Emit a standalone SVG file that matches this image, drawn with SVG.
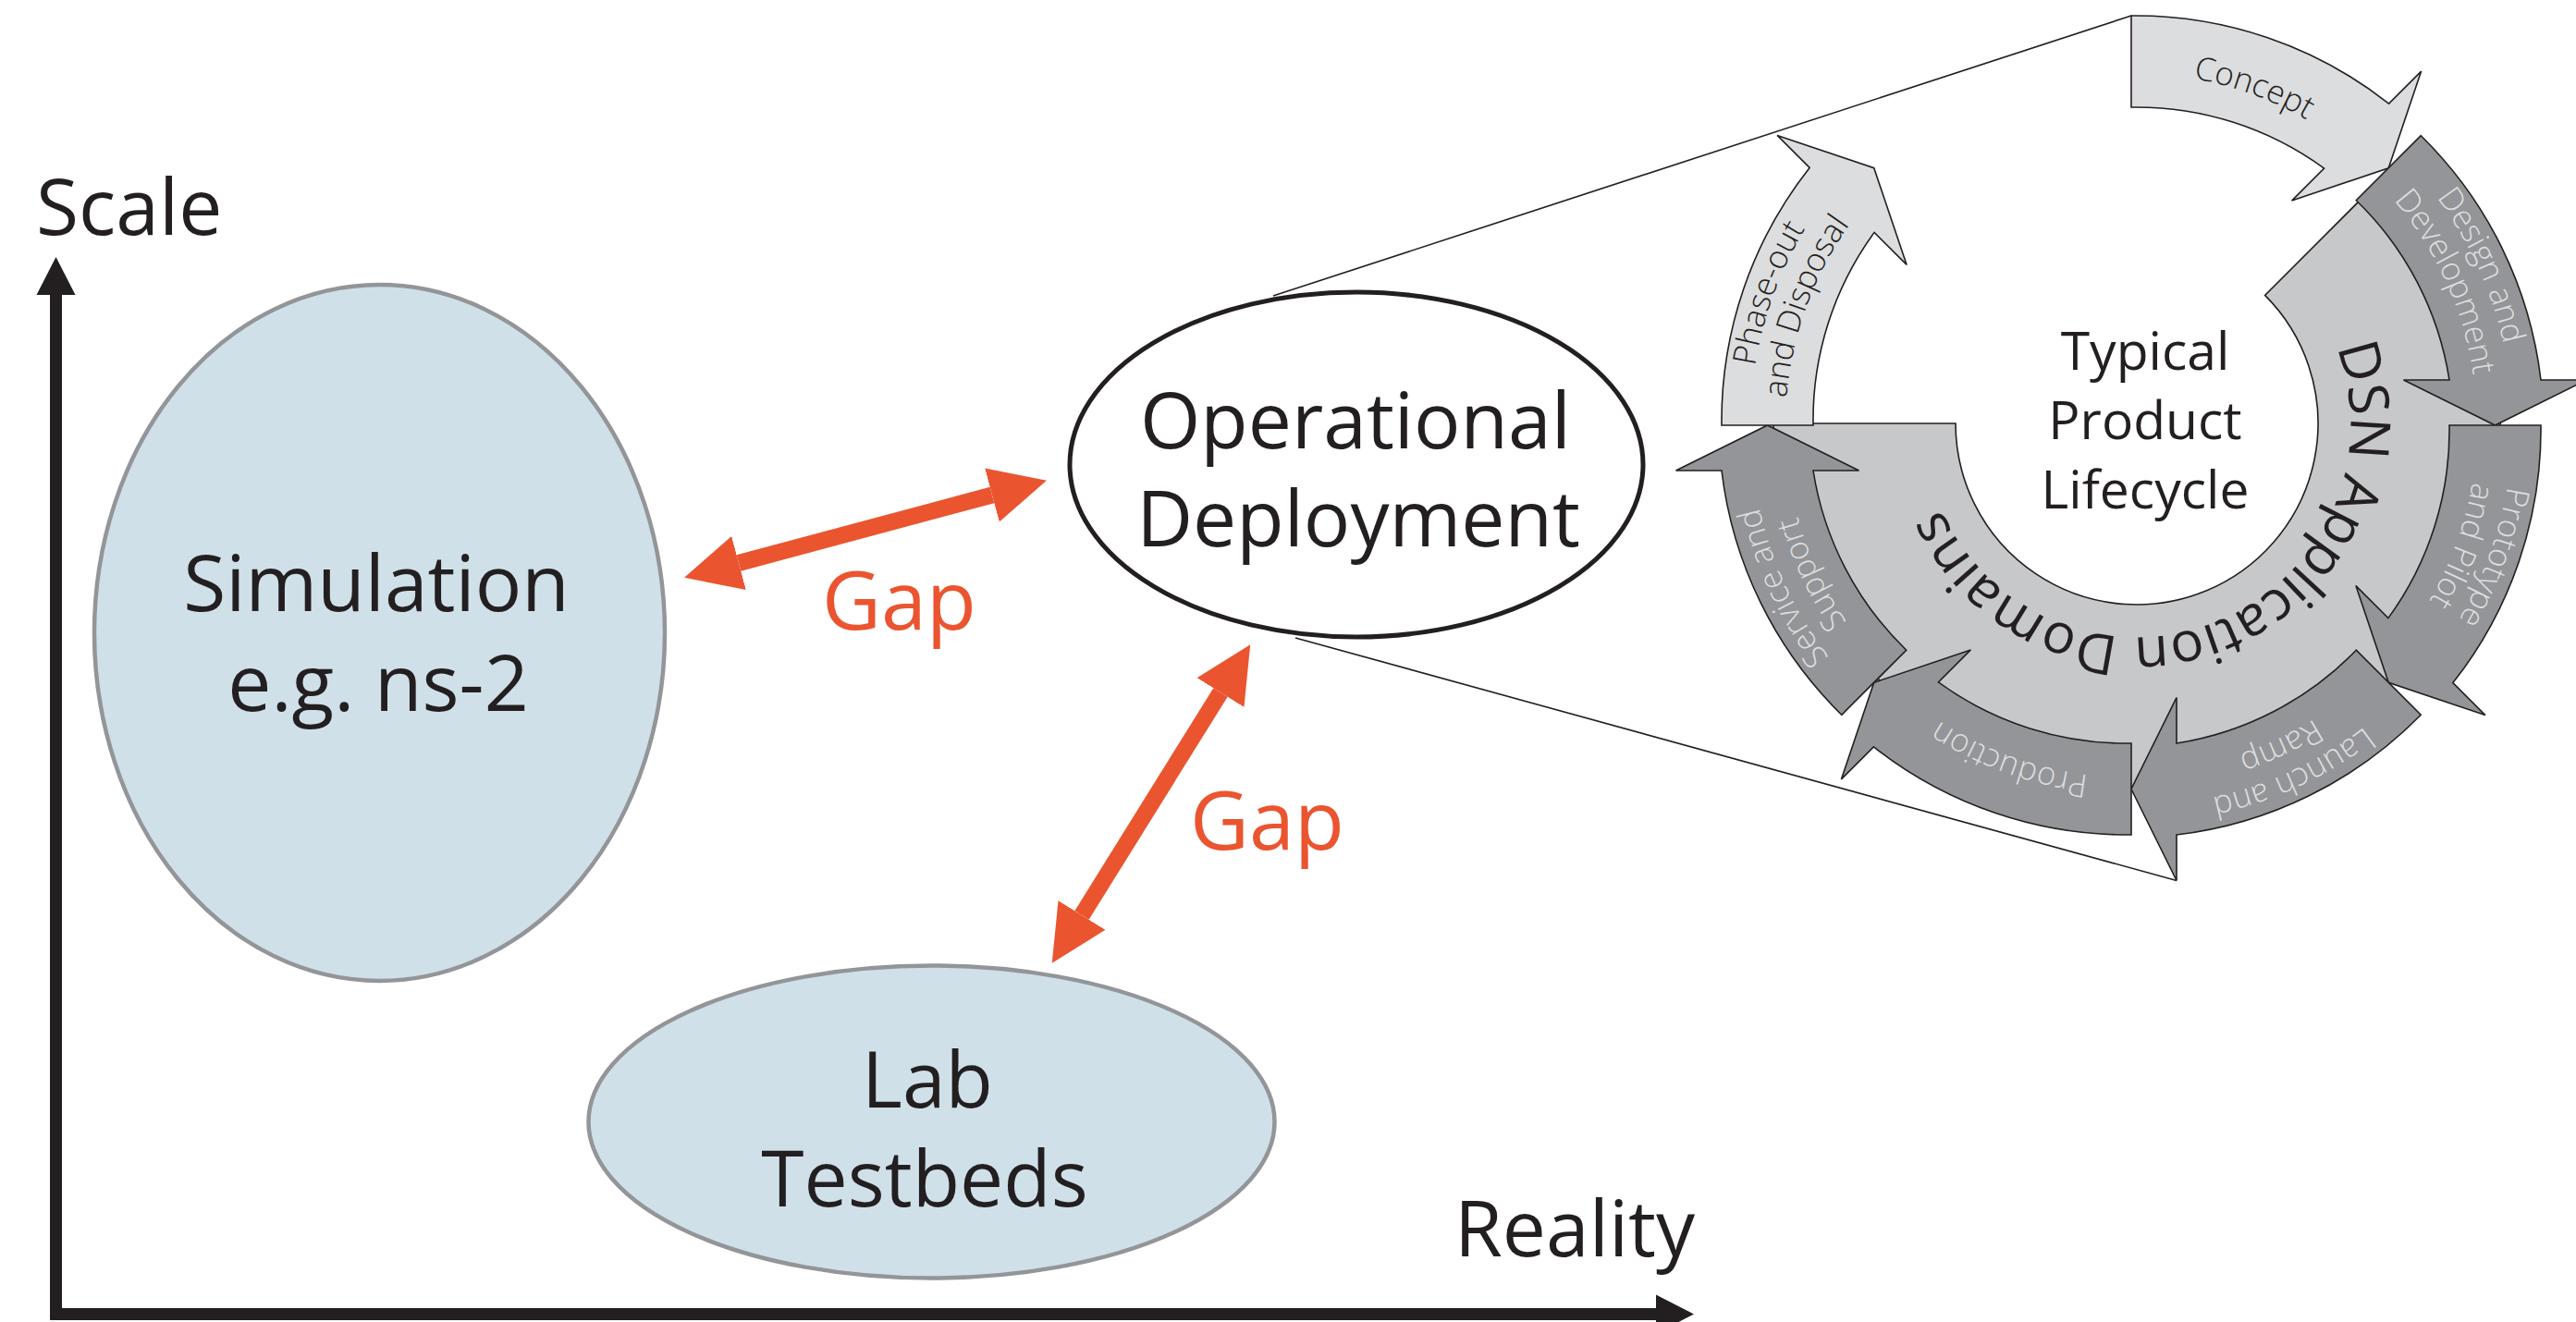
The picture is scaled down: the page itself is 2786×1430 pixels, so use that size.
<svg xmlns="http://www.w3.org/2000/svg" width="2786" height="1430" viewBox="0 0 2786 1430">
  <style>
    text { font-family: "Open Sans", "Liberation Sans", sans-serif; font-weight: 400; fill: #231f20; }
    .big { font-size: 84px; }
    .mid { text-anchor: middle; }
    .gap { font-size: 88px; fill: #ea5530; }
    .bubble { fill: #cfe0e9; stroke: #939598; stroke-width: 4.5; }
    .op { fill: #ffffff; stroke: #231f20; stroke-width: 5; }
    .axis { fill: none; stroke: #231f20; stroke-width: 13; stroke-linejoin: miter; }
    .gaparrow { fill: none; stroke: #ea5530; stroke-width: 18; }
    .callout { fill: none; stroke: #231f20; stroke-width: 1.6; }
    .ring { fill: #c7c8ca; stroke: #231f20; stroke-width: 1.6; }
    .phase { stroke: #231f20; stroke-width: 1.6; stroke-linejoin: miter; }
    .dark { fill: #939598; }
    .light { fill: #dcdddf; }
    .pl { font-size: 35px; font-weight: 300; text-anchor: middle; }
    .pl-light { fill: #dcdddf; }
    .center { font-size: 57px; text-anchor: middle; }
    .ringtxt { font-size: 60px; text-anchor: middle; }
  </style>
  <defs>
    <marker id="axisHead" markerUnits="userSpaceOnUse" markerWidth="42" markerHeight="44" refX="0" refY="22" orient="auto-start-reverse" viewBox="0 0 42 44">
      <path d="M0,1 L41,22 L0,43 z" fill="#231f20"/>
    </marker>
    <marker id="gapHead" markerUnits="userSpaceOnUse" markerWidth="62" markerHeight="62" refX="0" refY="31" orient="auto-start-reverse" viewBox="0 0 62 62">
      <path d="M0,1 L61,31 L0,61 z" fill="#ea5530"/>
    </marker>
    <!-- baselines for the lifecycle labels (arcs run clockwise, glyph tops face outward) -->
    <path id="tp-concept" d="M1975.0,269.5 A381,381 0 0 1 2680.2,526.2"/>
    <path id="tp-design-o" d="M2201.8,61.1 A412,412 0 0 1 2538.4,799.5"/>
    <path id="tp-design-i" d="M2211.4,97.9 A374,374 0 0 1 2516.8,768.2"/>
    <path id="tp-proto-o" d="M2511,103.2 A412,412 0 0 1 2233.5,865.7"/>
    <path id="tp-proto-i" d="M2492,136.1 A374,374 0 0 1 2240.1,828.3"/>
    <path id="tp-launch-o" d="M2703.0,353.4 A412,412 0 0 1 1967.5,696.3"/>
    <path id="tp-launch-i" d="M2666.3,363.2 A374,374 0 0 1 1998.6,674.5"/>
    <path id="tp-prod" d="M2635.0,650.5 A381,381 0 0 1 1929.8,393.8"/>
    <path id="tp-service-o" d="M2411.6,858.0 A412,412 0 0 1 2068.7,122.5"/>
    <path id="tp-service-i" d="M2401.8,821.3 A374,374 0 0 1 2090.5,153.6"/>
    <path id="tp-phase-o" d="M2099,816.8 A412,412 0 0 1 2376.5,54.3"/>
    <path id="tp-phase-i" d="M2118,783.9 A374,374 0 0 1 2370.0,91.7"/>
    <path id="tp-ring" d="M2426.5,258.0 A231,231 0 1 1 2088.5,395.9"/>
  </defs>

  <!-- axes -->
  <g id="axes">
    <path class="axis" d="M60.5,319 V1421.5 H1791" marker-start="url(#axisHead)" marker-end="url(#axisHead)"/>
    <text class="big" x="39" y="254">Scale</text>
    <text class="big" x="1573" y="1359">Reality</text>
  </g>

  <!-- connectors: gap arrows and the zoom lines to the lifecycle -->
  <g id="connectors">
    <line class="callout" x1="1377" y1="320" x2="2305" y2="17"/>
    <line class="callout" x1="1401" y1="690" x2="2354" y2="952.5"/>
    <line class="gaparrow" x1="799" y1="609" x2="1073" y2="535.5" marker-start="url(#gapHead)" marker-end="url(#gapHead)"/>
    <line class="gaparrow" x1="1320" y1="749" x2="1170" y2="990" marker-start="url(#gapHead)" marker-end="url(#gapHead)"/>
    <text class="gap" x="889" y="681">Gap</text>
    <text class="gap" x="1287" y="919">Gap</text>
  </g>

  <g id="simulation">
    <ellipse class="bubble" cx="410.5" cy="684.5" rx="308.5" ry="376.5"/>
    <text class="big mid" x="407" y="661">Simulation</text>
    <text class="big mid" x="409" y="769">e.g. ns-2</text>
  </g>

  <g id="lab-testbeds">
    <ellipse class="bubble" cx="1007.5" cy="1213.5" rx="371" ry="169"/>
    <text class="big mid" x="1003" y="1198">Lab</text>
    <text class="big mid" x="1000" y="1305">Testbeds</text>
  </g>

  <g id="operational-deployment">
    <ellipse class="op" cx="1467" cy="502.5" rx="310" ry="186.5"/>
    <text class="big mid" x="1466" y="485">Operational</text>
    <text class="big mid" x="1469" y="591">Deployment</text>
  </g>

  <!-- product lifecycle wheel -->
  <g id="lifecycle">
    <g id="dsn-ring">
      <path class="ring" d="M2588.9,180.1 A393,393 0 1 1 1918,458 L2115,458 A196,196 0 1 0 2449.6,319.4 Z"/>
      <text class="ringtxt"><textPath href="#tp-ring" startOffset="50%">DSN Application Domains</textPath></text>
    </g>
    <g id="typical-product-lifecycle">
      <text class="center" x="2320" y="400">Typical</text>
      <text class="center" x="2320" y="475">Product</text>
      <text class="center" x="2320" y="550">Lifecycle</text>
    </g>

    <g id="phase-concept">
      <path class="phase light" d="M2305,17 A443,443 0 0 1 2583.6,112.1 L2618.6,77.1 L2583.25,181.75 L2478.6,217.1 L2513.6,182.1 A344,344 0 0 0 2305,116 Z"/>
      <text class="pl"><textPath href="#tp-concept" startOffset="50%">Concept</textPath></text>
    </g>
    <g id="phase-design">
      <path class="phase dark" d="M2618.25,146.75 A443,443 0 0 1 2748,411 L2797.5,411 L2698.5,460 L2599.5,411 L2649,411 A344,344 0 0 0 2548.25,216.75 Z"/>
      <text class="pl pl-light"><textPath href="#tp-design-o" startOffset="50%">Design and</textPath></text>
      <text class="pl pl-light"><textPath href="#tp-design-i" startOffset="50%">Development</textPath></text>
    </g>
    <g id="phase-prototype">
      <path class="phase dark" d="M2748,460 A443,443 0 0 1 2652.9,738.6 L2687.9,773.6 L2583.25,738.25 L2547.9,633.6 L2582.9,668.6 A344,344 0 0 0 2649,460 Z"/>
      <text class="pl pl-light"><textPath href="#tp-proto-o" startOffset="50%">Prototype</textPath></text>
      <text class="pl pl-light"><textPath href="#tp-proto-i" startOffset="50%">and Pilot</textPath></text>
    </g>
    <g id="phase-launch">
      <path class="phase dark" d="M2618.25,773.25 A443,443 0 0 1 2354,903 L2354,952.5 L2305,853.5 L2354,754.5 L2354,804 A344,344 0 0 0 2548.25,703.25 Z"/>
      <text class="pl pl-light"><textPath href="#tp-launch-o" startOffset="50%">Launch and</textPath></text>
      <text class="pl pl-light"><textPath href="#tp-launch-i" startOffset="50%">Ramp</textPath></text>
    </g>
    <g id="phase-production">
      <path class="phase dark" d="M2305,903 A443,443 0 0 1 2026.4,807.9 L1991.4,842.9 L2026.75,738.25 L2131.4,702.9 L2096.4,737.9 A344,344 0 0 0 2305,804 Z"/>
      <text class="pl pl-light"><textPath href="#tp-prod" startOffset="50%">Production</textPath></text>
    </g>
    <g id="phase-service">
      <path class="phase dark" d="M1991.75,773.25 A443,443 0 0 1 1862,509 L1812.5,509 L1911.5,460 L2010.5,509 L1961,509 A344,344 0 0 0 2061.75,703.25 Z"/>
      <text class="pl pl-light"><textPath href="#tp-service-o" startOffset="50%">Service and</textPath></text>
      <text class="pl pl-light"><textPath href="#tp-service-i" startOffset="50%">Support</textPath></text>
    </g>
    <g id="phase-disposal">
      <path class="phase light" d="M1862,460 A443,443 0 0 1 1957.1,181.4 L1922.1,146.4 L2026.75,181.75 L2062.1,286.4 L2027.1,251.4 A344,344 0 0 0 1961,460 Z"/>
      <text class="pl"><textPath href="#tp-phase-o" startOffset="50%">Phase-out</textPath></text>
      <text class="pl"><textPath href="#tp-phase-i" startOffset="50%">and Disposal</textPath></text>
    </g>
  </g>
</svg>
